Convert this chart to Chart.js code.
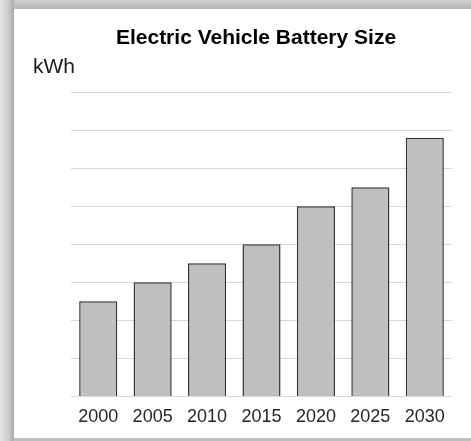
<!DOCTYPE html>
<html>
<head>
<meta charset="utf-8">
<script src="https://cdn.jsdelivr.net/npm/chart.js@4"></script>
<style>
  html, body { margin: 0; padding: 0; overflow: hidden; }
  body { width: 471px; height: 441px; background: linear-gradient(to bottom, #d0d0d0 0, #b4b4b4 9px, #c0c0c0 9px); position: relative; }
  .leftband { position: absolute; left: 0; top: 0; width: 14px; height: 441px; background: linear-gradient(to right, #e6e6e6 0, #cfcfcf 8px, #a9a9a9 14px); }
  .card { position: absolute; left: 14px; top: 9px; width: 457px; height: 429px; background: #fff; }
</style>
</head>
<body>
<div class="leftband"></div>
<div class="card"><canvas id="myChart" width="457" height="429"></canvas></div>
<script>
const years = ['2000', '2005', '2010', '2015', '2020', '2025', '2030'];
const batteryKWh = [25, 30, 35, 40, 50, 55, 68];
const yMax = 80;
const yStep = 10;
const unitLabel = 'kWh';
const chartTitle = 'Electric Vehicle Battery Size';

// draws the unit label above the y axis, top-left
const unitPlugin = {
    id: 'unitLabel',
    afterDraw(chart) {
        const ctx = chart.ctx;
        ctx.save();
        ctx.font = '21px "Liberation Sans", Arial, sans-serif';
        ctx.fillStyle = '#1a1a1a';
        ctx.textBaseline = 'alphabetic';
        ctx.fillText(unitLabel, chart.chartArea.left - 38, chart.chartArea.top - 19);
        ctx.restore();
    }
};

const data = {
    labels: years,
    datasets: [{
        label: unitLabel,
        data: batteryKWh,
        backgroundColor: '#bfbfbf',
        borderColor: '#333333',
        borderWidth: 1.5,
        barPercentage: 0.7,
        categoryPercentage: 1
    }]
};

const config = {
    type: 'bar',
    data: data,
    options: {
        responsive: false,
        animation: false,
        layout: { padding: { left: 46, right: 19, top: 0, bottom: 0 } },
        plugins: {
            legend: { display: false },
            tooltip: { enabled: false },
            title: {
                display: true,
                text: chartTitle,
                color: '#000',
                font: { family: '"Liberation Sans", Arial, sans-serif', size: 21, weight: 'bold' },
                padding: { top: 17, bottom: 41 }
            }
        },
        scales: {
            x: {
                grid: { display: false, drawTicks: false },
                border: { display: false },
                ticks: {
                    color: '#262626',
                    padding: 10,
                    font: { family: '"Liberation Sans", Arial, sans-serif', size: 18 }
                }
            },
            y: {
                min: 0,
                max: yMax,
                afterFit(scale) { scale.width = 11; },
                grid: { color: '#d9d9d9', lineWidth: 1, drawTicks: false },
                border: { display: false },
                ticks: { display: false, stepSize: yStep }
            }
        }
    },
    plugins: [unitPlugin]
};

const myChart = new Chart(document.getElementById('myChart'), config);
</script>
</body>
</html>
